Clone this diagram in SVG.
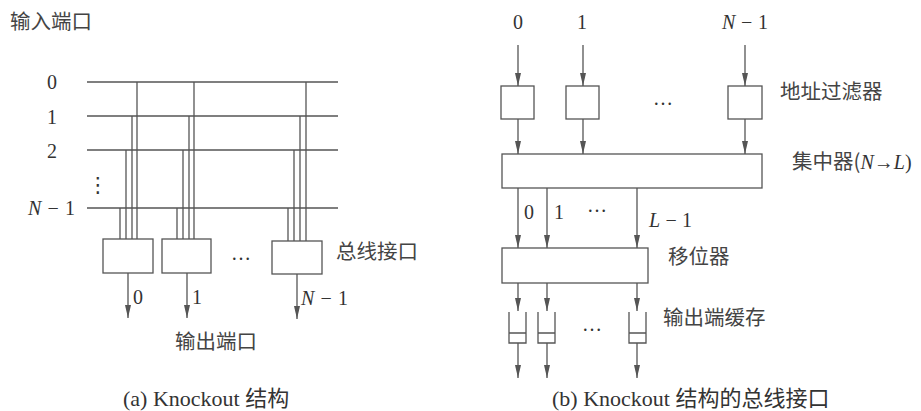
<svg xmlns="http://www.w3.org/2000/svg" width="921" height="411" viewBox="0 0 921 411">
<defs>
<style>
.ln{stroke:#555;stroke-width:1.3;fill:none}
.bx{stroke:#555;stroke-width:1.3;fill:#fff}
.ar{stroke:#555;stroke-width:1.3;fill:none;marker-end:url(#ah)}
.t{font-family:"Liberation Serif","Noto Sans CJK SC",serif;font-size:20px;fill:#333}
.c{font-family:"Noto Sans CJK SC",sans-serif;font-size:20.5px;fill:#444}
.cap{font-family:"Liberation Serif","Noto Sans CJK SC",serif;font-size:22px;fill:#333}
.i{font-style:italic}
.m{text-anchor:middle}
</style>
<marker id="ah" markerUnits="userSpaceOnUse" markerWidth="14" markerHeight="8" viewBox="-13 -4 14 8" refX="0" refY="0" orient="auto">
<path d="M-13,-3 L0,0 L-13,3 Z" fill="#555"/>
</marker>
</defs>
<rect width="921" height="411" fill="#fff"/>

<!-- (a) Knockout structure -->
<g id="input-label"><text class="c" x="10" y="29">输入端口</text></g>
<g id="input-lines">
<line class="ln" x1="87" y1="82" x2="338" y2="82"/>
<line class="ln" x1="87" y1="116" x2="338" y2="116"/>
<line class="ln" x1="87" y1="150" x2="338" y2="150"/>
<line class="ln" x1="87" y1="208" x2="338" y2="208"/>
<text class="t m" x="52" y="89">0</text>
<text class="t m" x="52" y="124">1</text>
<text class="t m" x="52" y="158">2</text>
<text class="t m" x="98" y="192" style="font-family:'DejaVu Sans',sans-serif;font-size:21px">⋮</text>
<text class="t" x="28" y="215" textLength="47" lengthAdjust="spacing"><tspan class="i">N</tspan>−1</text>
</g>
<g id="bus-taps">
<line class="ln" x1="137" y1="82" x2="137" y2="239"/>
<line class="ln" x1="132" y1="116" x2="132" y2="239"/>
<line class="ln" x1="126" y1="150" x2="126" y2="239"/>
<line class="ln" x1="120" y1="208" x2="120" y2="239"/>
<line class="ln" x1="194" y1="82" x2="194" y2="239"/>
<line class="ln" x1="189" y1="116" x2="189" y2="239"/>
<line class="ln" x1="183" y1="150" x2="183" y2="239"/>
<line class="ln" x1="177" y1="208" x2="177" y2="239"/>
<line class="ln" x1="306" y1="82" x2="306" y2="241"/>
<line class="ln" x1="300" y1="116" x2="300" y2="241"/>
<line class="ln" x1="294" y1="150" x2="294" y2="241"/>
<line class="ln" x1="288" y1="208" x2="288" y2="241"/>
</g>
<g id="bus-if-0"><rect class="bx" x="103" y="239" width="50" height="34"/></g>
<g id="bus-if-1"><rect class="bx" x="162" y="239" width="49" height="34"/></g>
<g id="bus-if-n"><rect class="bx" x="272" y="241" width="50" height="33"/></g>
<g id="bus-if-label">
<text class="t m" x="241" y="260">…</text>
<text class="c" x="336" y="259">总线接口</text>
</g>
<g id="connectors-a">
<line class="ar" x1="128" y1="273" x2="128" y2="318"/>
<line class="ar" x1="187" y1="273" x2="187" y2="318"/>
<line class="ar" x1="297" y1="274" x2="297" y2="319"/>
</g>
<g id="output-labels">
<text class="t" x="133" y="304">0</text>
<text class="t" x="192" y="304">1</text>
<text class="t" x="301" y="305" textLength="47" lengthAdjust="spacing"><tspan class="i">N</tspan>−1</text>
<text class="c" x="175" y="349">输出端口</text>
</g>
<g id="caption-a"><text class="cap" x="123" y="406">(a)  Knockout 结构</text></g>

<!-- (b) Bus interface -->
<g id="b-inputs">
<text class="t m" x="518" y="29">0</text>
<text class="t m" x="582" y="29">1</text>
<text class="t" x="722" y="29" textLength="46" lengthAdjust="spacing"><tspan class="i">N</tspan>−1</text>
</g>
<g id="filter-0"><rect class="bx" x="501" y="86" width="33" height="33"/></g>
<g id="filter-1"><rect class="bx" x="566" y="86" width="33" height="33"/></g>
<g id="filter-n"><rect class="bx" x="728" y="86" width="34" height="33"/></g>
<g id="filter-label">
<text class="t m" x="663" y="105">…</text>
<text class="c" x="780" y="99">地址过滤器</text>
</g>
<g id="concentrator">
<rect class="bx" x="502" y="154" width="260" height="34"/>
<text class="c" x="792" y="169">集中器(<tspan class="t i">N</tspan><tspan class="t">→</tspan><tspan class="t i">L</tspan><tspan class="t">)</tspan></text>
</g>
<g id="conc-labels">
<text class="t" x="524" y="219">0</text>
<text class="t" x="554" y="219">1</text>
<text class="t m" x="597" y="212">…</text>
<text class="t" x="649" y="227" textLength="43" lengthAdjust="spacing"><tspan class="i">L</tspan>−1</text>
</g>
<g id="shifter">
<rect class="bx" x="502" y="248" width="146" height="35"/>
<text class="c" x="668" y="264">移位器</text>
</g>
<g id="buffer-0"><path class="ln" d="M509,312 V343 H526 V312 M509,333 H526"/></g>
<g id="buffer-1"><path class="ln" d="M538,312 V343 H555 V312 M538,333 H555"/></g>
<g id="buffer-n"><path class="ln" d="M629,312 V343 H646 V312 M629,333 H646"/></g>
<g id="buffer-label">
<text class="t m" x="592" y="331">…</text>
<text class="c" x="663" y="325">输出端缓存</text>
</g>
<g id="connectors-b">
<line class="ar" x1="518" y1="45" x2="518" y2="86"/>
<line class="ar" x1="583" y1="45" x2="583" y2="86"/>
<line class="ar" x1="745" y1="45" x2="745" y2="86"/>
<line class="ar" x1="518" y1="119" x2="518" y2="154"/>
<line class="ar" x1="583" y1="119" x2="583" y2="154"/>
<line class="ar" x1="745" y1="119" x2="745" y2="154"/>
<line class="ar" x1="518" y1="188" x2="518" y2="248"/>
<line class="ar" x1="547" y1="188" x2="547" y2="248"/>
<line class="ar" x1="637" y1="188" x2="637" y2="248"/>
<line class="ar" x1="518" y1="283" x2="518" y2="311"/>
<line class="ar" x1="547" y1="283" x2="547" y2="311"/>
<line class="ar" x1="637" y1="283" x2="637" y2="311"/>
<line class="ar" x1="518" y1="343" x2="518" y2="378"/>
<line class="ar" x1="547" y1="343" x2="547" y2="378"/>
<line class="ar" x1="637" y1="343" x2="637" y2="378"/>
</g>
<g id="caption-b"><text class="cap" x="552" y="406">(b) Knockout 结构的总线接口</text></g>
</svg>
